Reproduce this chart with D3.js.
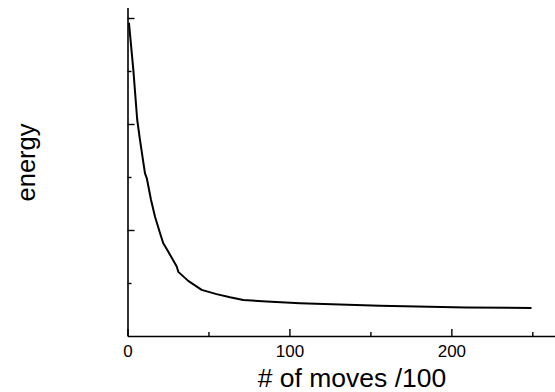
<!DOCTYPE html>
<html>
<head>
<meta charset="utf-8">
<script src="https://cdn.jsdelivr.net/npm/d3@7"></script>
<style>
  html, body { margin: 0; padding: 0; background: #fff; }
  svg { display: block; font-family: "Liberation Sans", Arial, sans-serif; }
</style>
</head>
<body>
<svg id="chart" width="555" height="392"></svg>
<script>
// Energy of the system versus number of moves (in hundreds)
const moves  = [0.9, 3.6, 6.0, 7.7, 10.8, 11.9, 14.5, 17.0, 20.1, 22.1, 25.2, 30.4, 31.4, 37.5, 45.8, 55.0, 63.3, 71.5, 85.9, 106.5, 155.9, 209.0, 249.5];
const energy = [5.91, 5.02, 4.08, 3.70, 3.07, 2.98, 2.57, 2.25, 1.94, 1.75, 1.59, 1.31, 1.21, 1.04, 0.87, 0.79, 0.73, 0.68, 0.65, 0.62, 0.57, 0.54, 0.53];

const xTicks = [0, 50, 100, 150, 200, 250];
const xLabeled = [0, 100, 200];
const yTicks = [1, 2, 3, 4, 5, 6];
const yMajor = [2, 4, 6];

const xLabel = "# of moves /100";
const yLabel = "energy";

const svg = d3.select("#chart");

const x = d3.scaleLinear().domain([0, 264]).range([127.5, 555]);
const y = d3.scaleLinear().domain([0, 6.2]).range([336, 7.4]);

// x axis with inward ticks, labels only on the hundreds
const gx = svg.append("g")
  .attr("transform", `translate(0,${y(0)})`)
  .call(d3.axisBottom(x)
    .tickValues(xTicks)
    .tickSizeOuter(0)
    .tickSizeInner(-7)
    .tickPadding(9)
    .tickFormat(d => xLabeled.includes(d) ? d3.format("d")(d) : ""));
gx.selectAll(".tick line")
  .attr("y2", d => xLabeled.includes(d) ? -7 : -4);

// y axis with inward ticks, no labels
const gy = svg.append("g")
  .attr("transform", `translate(${x(0)},0)`)
  .call(d3.axisLeft(y)
    .tickValues(yTicks)
    .tickSizeOuter(0)
    .tickSizeInner(-7)
    .tickFormat(""));
gy.selectAll(".tick line")
  .attr("x2", d => yMajor.includes(d) ? 7 : 4);

svg.selectAll(".domain").attr("stroke", "#000").attr("stroke-width", 1.6);
svg.selectAll(".tick line").attr("stroke", "#000").attr("stroke-width", 1.4);
svg.selectAll(".tick text")
  .attr("fill", "#000")
  .style("font-size", "17px")
  .style("font-family", "\"Liberation Sans\", Arial, sans-serif");

// energy curve
const line = d3.line()
  .x((d, i) => x(moves[i]))
  .y(d => y(d));

svg.append("path")
  .datum(energy)
  .attr("fill", "none")
  .attr("stroke", "#000")
  .attr("stroke-width", 2)
  .attr("stroke-linejoin", "round")
  .attr("d", line);

// axis titles
svg.append("text")
  .attr("x", 352)
  .attr("y", 387)
  .attr("text-anchor", "middle")
  .style("font-size", "26.5px")
  .attr("fill", "#000")
  .text(xLabel);

svg.append("text")
  .attr("transform", "translate(35,162.5) rotate(-90)")
  .attr("text-anchor", "middle")
  .style("font-size", "25.5px")
  .attr("fill", "#000")
  .text(yLabel);
</script>
</body>
</html>
